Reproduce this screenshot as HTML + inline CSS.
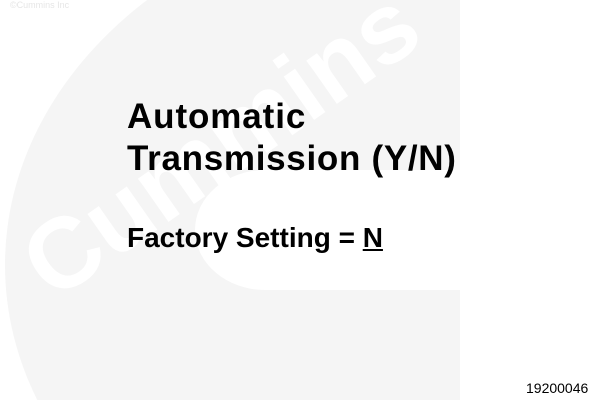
<!DOCTYPE html>
<html><head><meta charset="utf-8"><style>
html,body{margin:0;padding:0;background:#fff;width:600px;height:400px;overflow:hidden;}
#c{position:relative;width:600px;height:400px;overflow:hidden;font-family:"Liberation Sans",Arial,sans-serif;}
.t{position:absolute;font-weight:bold;color:#000;white-space:nowrap;line-height:1;}
</style></head><body><div id="c">
<svg width="600" height="400" style="position:absolute;left:0;top:0;display:block">
<defs><clipPath id="cl"><rect x="0" y="0" width="460" height="400"/></clipPath></defs>
<g clip-path="url(#cl)">
<ellipse cx="460" cy="265" rx="455" ry="365" fill="#f5f5f5"/>
<path d="M265 170 H460 V290 H265 A70 60 0 0 1 265 170 Z" fill="#fff"/>
<text x="0" y="0" transform="translate(225,150) rotate(-35)" text-anchor="middle" dominant-baseline="middle" font-family="Liberation Sans, Arial, sans-serif" font-weight="bold" font-size="100" fill="#fff">Cummins</text>
</g>
</svg>
<div style="position:absolute;left:10px;top:1px;font-size:9px;color:#e6e6e6;line-height:1;">©Cummins Inc</div>
<div class="t" style="left:127px;top:99px;font-size:35px;letter-spacing:0.9px;">Automatic</div>
<div class="t" style="left:127px;top:141px;font-size:35px;letter-spacing:0.7px;">Transmission (Y/N)</div>
<div class="t" style="left:127px;top:224px;font-size:28px;">Factory Setting = <span style="text-decoration:underline;">N</span></div>
<div style="position:absolute;left:526px;top:381px;font-size:14px;color:#000;line-height:1;">19200046</div>
</div></body></html>
